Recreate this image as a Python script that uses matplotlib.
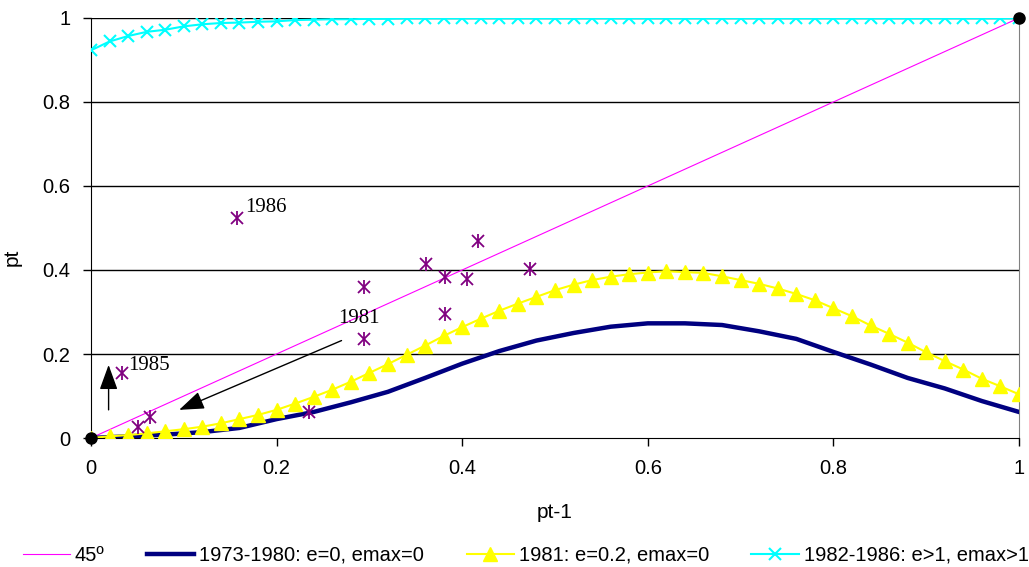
import numpy as np
import matplotlib
matplotlib.use("Agg")
import matplotlib.pyplot as plt

plt.rcParams['font.family'] = ['Liberation Sans', 'DejaVu Sans']

# grid of pt-1 values used by the model curves
x_fine = np.linspace(0, 1, 51)
x_coarse = np.linspace(0, 1, 26)

# 1981: e=0.2, emax=0
y_1981 = [0.000, 0.004, 0.007, 0.011, 0.016, 0.021, 0.027, 0.035, 0.045, 0.055,
          0.067, 0.082, 0.098, 0.115, 0.134, 0.155, 0.176, 0.198, 0.220, 0.243,
          0.264, 0.284, 0.303, 0.320, 0.336, 0.352, 0.365, 0.376, 0.384, 0.390,
          0.394, 0.397, 0.395, 0.393, 0.385, 0.376, 0.367, 0.356, 0.343, 0.328,
          0.309, 0.290, 0.268, 0.248, 0.227, 0.204, 0.183, 0.163, 0.141, 0.123,
          0.104]

# 1982-1986: e>1, emax>1
y_1982 = [0.923, 0.944, 0.957, 0.967, 0.972, 0.980, 0.985, 0.988, 0.989, 0.991,
          0.992, 0.995, 0.996, 0.997, 0.997, 0.998, 0.998] + [0.999] * 34

# 1973-1980: e=0, emax=0 (sampled every 0.04)
y_1973 = [0.000, 0.004, 0.008, 0.014, 0.024, 0.045, 0.062, 0.085, 0.110, 0.143,
          0.177, 0.207, 0.232, 0.250, 0.265, 0.273, 0.273, 0.269, 0.254, 0.236,
          0.205, 0.175, 0.143, 0.118, 0.088, 0.062]

# observed points (pt-1, pt)
obs_x = [0.157, 0.417, 0.361, 0.381, 0.405, 0.473, 0.294, 0.382, 0.294, 0.235,
         0.064, 0.051, 0.033]
obs_y = [0.523, 0.470, 0.414, 0.383, 0.379, 0.402, 0.359, 0.295, 0.235, 0.061,
         0.049, 0.027, 0.154]

# fixed points
fix_x = [0, 1]
fix_y = [0, 1]

fig = plt.figure(figsize=(10.29, 5.67), dpi=100)
ax = fig.add_axes([0.0884, 0.2275, 0.9019, 0.7408])

for yv in [0.2, 0.4, 0.6, 0.8, 1.0]:
    ax.axhline(yv, color='black', lw=1, zorder=1)

l45, = ax.plot([0, 1], [0, 1], color='#FF00FF', lw=0.8, label='45º', zorder=3)
l73, = ax.plot(x_coarse, y_1973, color='#000080', lw=3.2, label='1973-1980: e=0, emax=0', zorder=3)
l81, = ax.plot(x_fine, y_1981, color='#FFFF00', lw=1.5, marker='^', ms=9.5,
               label='1981: e=0.2, emax=0', zorder=4)
l82, = ax.plot(x_fine, y_1982, color='#00FFFF', lw=1.5, marker='x', ms=9, mew=1.5,
               label='1982-1986: e>1, emax>1', zorder=4)

ax.plot(obs_x, obs_y, ls='none', marker='x', ms=8, mew=1.3, color='#800080', zorder=5)
ax.plot(obs_x, obs_y, ls='none', marker='|', ms=10, mew=1.3, color='#800080', zorder=5)
ax.plot(fix_x, fix_y, ls='none', marker='o', ms=8, color='black', zorder=6, clip_on=False)

tfont = dict(family=['Liberation Serif', 'DejaVu Serif'], fontsize=15)
ax.text(0.166, 0.538, '1986', va='baseline', **tfont)
ax.text(0.040, 0.162, '1985', va='baseline', **tfont)
ax.text(0.266, 0.274, '1981', va='baseline', **tfont)

arrow = dict(arrowstyle='-|>,head_length=1.1,head_width=0.4', color='black', lw=1,
             shrinkA=0, shrinkB=0, mutation_scale=14)
ax.annotate('', xy=(0.019, 0.174), xytext=(0.019, 0.067), arrowprops=arrow)
ax.annotate('', xy=(0.095, 0.067), xytext=(0.270, 0.232), arrowprops=arrow)

ax.set_xlim(0, 1)
ax.set_ylim(0, 1)
ax.set_xticks([0, 0.2, 0.4, 0.6, 0.8, 1])
ax.set_xticklabels(['0', '0.2', '0.4', '0.6', '0.8', '1'])
ax.set_yticks([0, 0.2, 0.4, 0.6, 0.8, 1])
ax.set_yticklabels(['0', '0.2', '0.4', '0.6', '0.8', '1'])
ax.tick_params(axis='both', direction='out', length=6, width=1, labelsize=14.5, pad=9)
ax.spines['top'].set_visible(False)
ax.spines['right'].set_color('#808080')
ax.spines['left'].set_color('black')
ax.spines['bottom'].set_color('black')

ax.set_xlabel('pt-1', fontsize=15, labelpad=18)
ax.set_ylabel('pt', fontsize=15, labelpad=12)
ax.yaxis.set_label_coords(-0.075, 0.43)

fig.legend(handles=[l45, l73, l81, l82], loc='lower left', bbox_to_anchor=(0.020, 0.0),
           ncol=4, frameon=False, fontsize=14.5, numpoints=1, handlelength=2.35,
           handletextpad=0.25, columnspacing=2.1, borderpad=0.1, borderaxespad=0.0)

fig.savefig('out.png', dpi=100)
